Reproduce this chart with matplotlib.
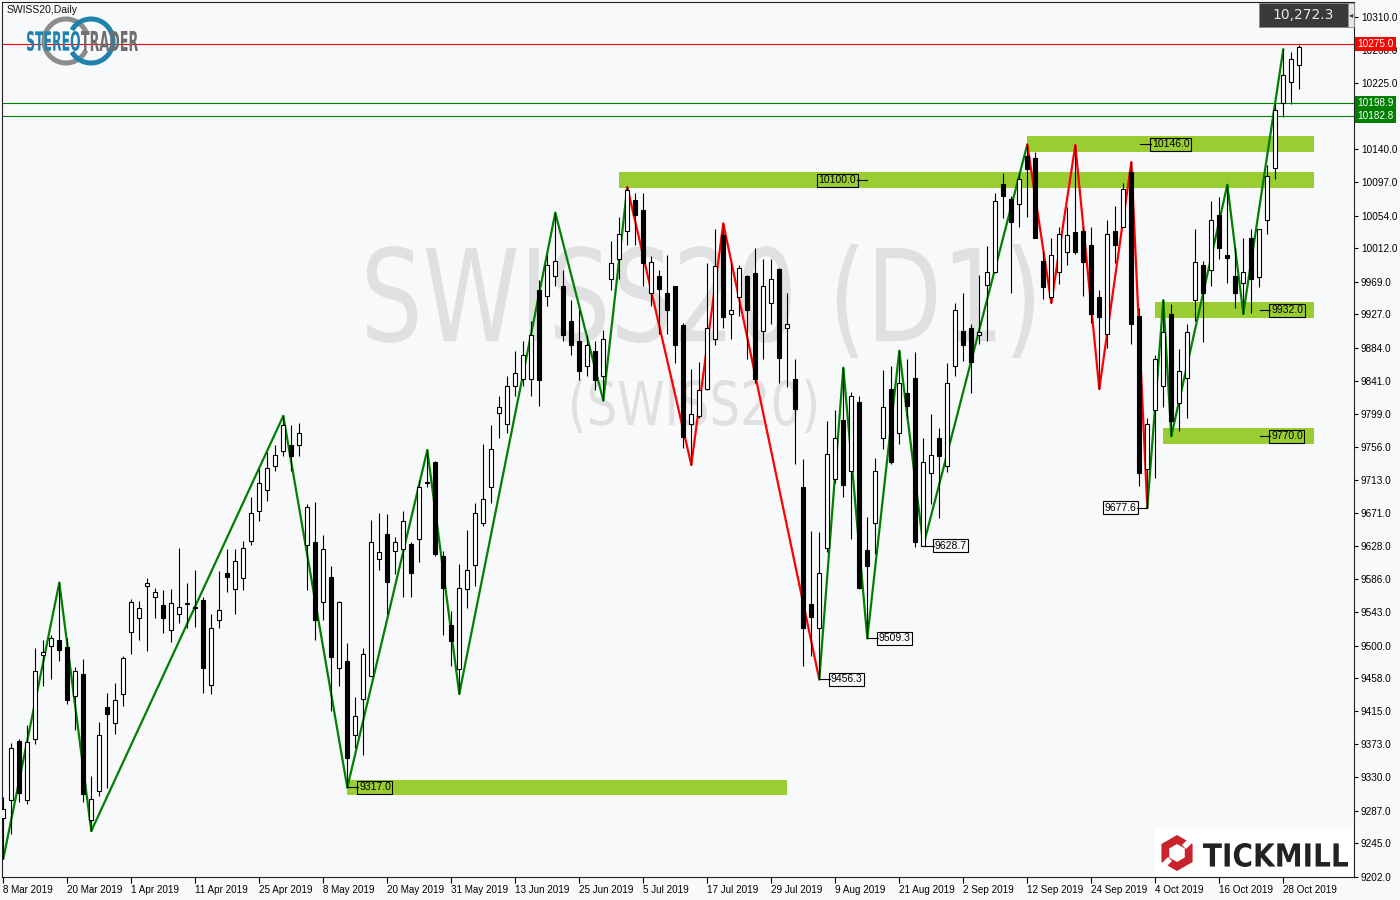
import numpy as np
import matplotlib.pyplot as plt
from matplotlib.patches import Rectangle, PathPatch, Arc, Polygon
from matplotlib.textpath import TextPath
from matplotlib.font_manager import FontProperties
from matplotlib.transforms import Affine2D, IdentityTransform

# daily candles, SWISS20, 8 Mar 2019 .. 30 Oct 2019
opens = [9278, 9301, 9377, 9301, 9380, 9488, 9500, 9507, 9498, 9435,
         9463, 9275, 9312, 9421, 9400, 9438, 9518, 9536, 9577, 9563,
         9552, 9520, 9541, 9553, 9550, 9559, 9449, 9533, 9593, 9573,
         9587, 9635, 9674, 9700, 9732, 9751, 9758, 9758, 9630, 9634,
         9556, 9589, 9471, 9480, 9385, 9431, 9461, 9611, 9644, 9622,
         9624, 9631, 9638, 9710, 9736, 9616, 9527, 9470, 9573, 9604,
         9658, 9704, 9800, 9786, 9835, 9844, 9844, 9958, 9951, 9977,
         9964, 9919, 9893, 9861, 9880, 9847, 9972, 9999, 10035, 10075,
         10062, 9955, 9977, 9954, 9963, 9913, 9785, 9796, 9831, 9895,
         10029, 9928, 9950, 9976, 9980, 9906, 9941, 9986, 9909, 9844,
         9704, 9553, 9523, 9626, 9715, 9791, 9725, 9814, 9623, 9658,
         9767, 9831, 9774, 9825, 9845, 9628.7, 9723, 9768, 9732, 9861,
         9906, 9909, 9900, 9965, 9982, 10095, 10076, 10069, 10131, 10129,
         9996, 9949, 9981, 10007, 10033, 10035, 10017, 9950, 9902, 10034,
         10039, 10110, 9925, 9728, 9804, 9835, 9928, 9813, 9845, 9946,
         9991, 9984, 10055, 10004, 9976, 9967, 10025, 9975, 10049, 10116,
         10199, 10226, 10248]
highs = [9305, 9374, 9380, 9398, 9497, 9507, 9513, 9581, 9510, 9472,
         9483, 9332, 9401, 9439, 9452, 9487, 9560, 9558, 9587, 9574,
         9571, 9573, 9626, 9581, 9598, 9562, 9541, 9596, 9625, 9625,
         9635, 9691, 9728, 9749, 9758, 9796, 9784, 9787, 9682, 9685,
         9643, 9603, 9558, 9503, 9434, 9497, 9662, 9671, 9669, 9640,
         9674, 9634, 9713, 9752, 9738, 9622, 9545, 9605, 9649, 9684,
         9760, 9784, 9822, 9848, 9880, 9893, 9919, 9971, 10003, 10058,
         9984, 9945, 9932, 9900, 9893, 9907, 10022, 10052, 10091, 10084,
         10083, 10002, 9984, 10003, 9964, 9916, 9857, 9865, 9993, 10037,
         10044, 9993, 9990, 9978, 10012, 9998, 9998, 9987, 9954, 9870,
         9740, 9648, 9647, 9789, 9804, 9858, 9827, 9822, 9666, 9742,
         9855, 9860, 9880, 9870, 9878, 9767, 9799, 9781, 9864, 9941,
         9954, 9915, 9978, 10015, 10084, 10109, 10080, 10109, 10146, 10136,
         10009, 10025, 10039, 10065, 10145, 10039, 10039, 9959, 10049, 10067,
         10096, 10123, 9935, 9794, 9874, 9945, 9940, 9882, 9915, 10037,
         9996, 10073, 10078, 10094, 10012, 10025, 10037, 10037, 10119, 10198,
         10269, 10265, 10274]
lows = [9225, 9257, 9298, 9296, 9373, 9448, 9457, 9480, 9425, 9391,
        9298, 9261, 9306, 9316, 9386, 9422, 9489, 9507, 9493, 9536,
        9516, 9505, 9529, 9522, 9524, 9439, 9438, 9522, 9569, 9541,
        9571, 9629, 9661, 9687, 9725, 9745, 9725, 9745, 9571, 9507,
        9533, 9416, 9448, 9317, 9368, 9359, 9461, 9598, 9541, 9592,
        9562, 9562, 9608, 9705, 9616, 9513, 9474, 9438, 9549, 9577,
        9654, 9684, 9768, 9774, 9822, 9835, 9822, 9809, 9938, 9964,
        9893, 9874, 9842, 9848, 9829, 9816, 9958, 9973, 10017, 10016,
        9964, 9938, 9902, 9902, 9864, 9755, 9733, 9793, 9829, 9887,
        9909, 9895, 9925, 9870, 9838, 9869, 9915, 9838, 9833, 9734,
        9474, 9487, 9456.3, 9621, 9709, 9691, 9638, 9573, 9509.3, 9618,
        9754, 9734, 9760, 9793, 9627, 9628.7, 9682, 9665, 9724, 9848,
        9867, 9826, 9889, 9893, 9980, 10051, 9955, 10039, 10053, 10026,
        9947, 9942, 9966, 9990, 10005, 9951, 9916, 9831, 9884, 9993,
        10039, 9889, 9706, 9677.6, 9716, 9807, 9770, 9777, 9794, 9919,
        9891, 9964, 9999, 9967, 9935, 9928, 9929, 9962, 10031, 10102,
        10181, 10198, 10218]
closes = [9289, 9368, 9310, 9376, 9467, 9492, 9510, 9494, 9430, 9467,
          9309, 9302, 9385, 9412, 9430, 9484, 9556, 9549, 9581, 9569,
          9536, 9555, 9550, 9554, 9549, 9471, 9523, 9546, 9589, 9609,
          9626, 9671, 9710, 9729, 9746, 9784, 9745, 9774, 9678, 9533,
          9625, 9485, 9556, 9355, 9409, 9489, 9634, 9621, 9582, 9633,
          9661, 9594, 9704, 9709, 9618, 9574, 9506, 9574, 9598, 9671,
          9689, 9753, 9808, 9835, 9852, 9874, 9900, 9842, 9990, 9996,
          9900, 9887, 9854, 9887, 9842, 9895, 9993, 10031, 10087, 10055,
          9993, 9994, 9960, 9932, 9888, 9769, 9799, 9829, 9909, 9989,
          9923, 9932, 9987, 9932, 9844, 9964, 9972, 9871, 9915, 9805,
          9523, 9537, 9593, 9747, 9767, 9707, 9822, 9574, 9602, 9725,
          9807, 9737, 9838, 9809, 9633, 9737, 9746, 9745, 9838, 9933,
          9888, 9866, 9904, 9982, 10073, 10080, 10046, 10102, 10114, 10026,
          9962, 10003, 10031, 10029, 10007, 9995, 9928, 9923, 10031, 10016,
          10089, 9915, 9722, 9786, 9869, 9904, 9790, 9854, 9904, 9994,
          9954, 10049, 10013, 10000, 9955, 9981, 9972, 10037, 10106, 10191,
          10235, 10256, 10272.3]

date_labels = ['8 Mar 2019', '20 Mar 2019', '1 Apr 2019', '11 Apr 2019', '25 Apr 2019',
               '8 May 2019', '20 May 2019', '31 May 2019', '13 Jun 2019', '25 Jun 2019',
               '5 Jul 2019', '17 Jul 2019', '29 Jul 2019', '9 Aug 2019', '21 Aug 2019',
               '2 Sep 2019', '12 Sep 2019', '24 Sep 2019', '4 Oct 2019', '16 Oct 2019',
               '28 Oct 2019']
# the 10183 tick sits under the green level labels and shows no text
price_ticks = [10310.0, 10268.0, 10225.0, 10183.0, 10140.0, 10097.0, 10054.0, 10012.0,
               9969.0, 9927.0, 9884.0, 9841.0, 9799.0, 9756.0, 9713.0, 9671.0, 9628.0,
               9586.0, 9543.0, 9500.0, 9458.0, 9415.0, 9373.0, 9330.0, 9287.0, 9245.0, 9202.0]
hidden_ticks = [10183.0]

# zigzag pivots (bar index) alternating low / high, colour per leg
zz_pivots = [0, 7, 11, 35, 43, 53, 57, 69, 75, 78, 86, 90, 102, 105, 108, 112, 115,
             128, 131, 134, 137, 141, 143, 145, 146, 153, 155, 160]
zz_colors = ['g'] * 9 + ['r'] * 3 + ['g'] * 5 + ['r'] * 5 + ['g'] * 5

# support / resistance zones: level, first bar, last bar
zone_levels = [9317.0, 10100.0, 10146.0, 9932.0, 9770.0]
zone_start = [43, 77, 128, 144, 145]
zone_end = [97.9, 163.8, 163.8, 163.8, 163.8]

red_level = 10275.0
green_levels = [10198.9, 10182.8]
last_price = closes[-1]

BG = '#f8f9fb'
GREEN = '#008000'
ZONE = '#9acd32'
W, H = 1400, 900

plt.rcParams['font.family'] = ['Liberation Sans', 'DejaVu Sans']

fig = plt.figure(figsize=(14, 9), dpi=100, facecolor=BG)
ax = fig.add_axes([2 / W, (H - 877) / H, 1352 / W, 875 / H], facecolor=BG)


def px(x):
    # screen x of the reference -> bar index
    return (x - 3.3) / 8.0


def fit_text(s, x0, y0, x1, y1, color, family='DejaVu Sans', weight='normal', z=0.5, target=None):
    tp = TextPath((0, 0), s, size=100, prop=FontProperties(family=family, weight=weight))
    bb = tp.get_extents()
    tr = Affine2D().translate(-bb.x0, -bb.y0).scale((x1 - x0) / bb.width, (y1 - y0) / bb.height)
    tr = tr.translate(x0, H - y1)
    p = PathPatch(tp, transform=tr, fc=color, ec='none', zorder=z)
    if target is None:
        fig.add_artist(p)
    else:
        p.set_clip_on(False)
        target.add_artist(p)


# watermark
fit_text('SWISS20 (D1)', 367, 244, 1034, 358, '#e0e0e0', target=ax, z=0.3)
fit_text('(SWISS20)', 572, 379, 816, 433, '#e0e0e0', target=ax, z=0.3)

# zones
for lev, a, b in zip(zone_levels, zone_start, zone_end):
    ax.add_patch(Rectangle((a, lev - 10.3), b - a, 20.6, fc=ZONE, ec='none', zorder=1))

# zigzag
for k in range(len(zz_pivots) - 1):
    i0, i1 = zz_pivots[k], zz_pivots[k + 1]
    if k % 2 == 0:
        y0, y1 = lows[i0], highs[i1]
    else:
        y0, y1 = highs[i0], lows[i1]
    col = GREEN if zz_colors[k] == 'g' else '#ff0000'
    ax.plot([i0, i1], [y0, y1], color=col, lw=1.6, zorder=1.5, solid_capstyle='round')

# level lines
ax.axhline(red_level, color='#ff0000', lw=0.8, zorder=2.5)
for g in green_levels:
    ax.axhline(g, color=GREEN, lw=0.8, zorder=2.5)

# candles
n = len(opens)
x = np.arange(n)
ax.vlines(x, lows, highs, color='black', lw=0.8, zorder=2)
for i in range(n):
    o, c = opens[i], closes[i]
    lo = min(o, c)
    hgt = max(abs(c - o), 1.3)
    fc = 'white' if c >= o else 'black'
    ax.add_patch(Rectangle((i - 0.25, lo), 0.5, hgt, fc=fc, ec='black', lw=0.8, zorder=3))


# price labels on the chart
def box_label(xi, yv, s, ha='left'):
    ax.text(xi, yv, s, fontsize=7.5, ha=ha, va='center', color='black', zorder=6,
            bbox=dict(boxstyle='square,pad=0.15', fc='none', ec='black', lw=0.8))


def stub(xa, xb, yv):
    ax.plot([xa, xb], [yv, yv], color='black', lw=0.8, zorder=6)


stub(43, px(358), zone_levels[0]); box_label(px(359), zone_levels[0], '9317.0')
stub(px(857), 108, zone_levels[1]); box_label(px(856), zone_levels[1], '10100.0', ha='right')
stub(px(1140), px(1151), zone_levels[2]); box_label(px(1152), zone_levels[2], '10146.0')
stub(px(1260), px(1270), zone_levels[3]); box_label(px(1271), zone_levels[3], '9932.0')
stub(px(1260), px(1270), zone_levels[4]); box_label(px(1271), zone_levels[4], '9770.0')
for piv in [102, 108, 115]:
    stub(piv, piv + 1.3, lows[piv])
    box_label(piv + 1.4, lows[piv], '%.1f' % lows[piv])
stub(141.7, 143, lows[143]); box_label(141.6, lows[143], '%.1f' % lows[143], ha='right')

# axes
ax.set_xlim(px(2), px(1354))
ax.set_ylim(9201.6, 10329.7)
ax.yaxis.tick_right()
ax.set_yticks(price_ticks)
ax.set_yticklabels(['' if t in hidden_ticks else '%.1f' % t for t in price_ticks])
ax.set_xticks(range(0, 161, 8))
ax.set_xticklabels(date_labels, ha='left')
ax.tick_params(axis='y', direction='out', length=3, width=0.8, pad=2, labelsize=7.2, colors='black')
ax.tick_params(axis='x', direction='out', length=4, width=0.8, pad=2, labelsize=7.1, colors='black')
for sp in ax.spines.values():
    sp.set_color('#222222')
    sp.set_linewidth(0.8)

ytr = ax.get_yaxis_transform()
ax.text(1.0025, red_level, '%.1f' % red_level, transform=ytr, fontsize=7.2, color='white',
        ha='left', va='center', zorder=7, clip_on=False,
        bbox=dict(boxstyle='square,pad=0.2', fc='#ff0000', ec='none'))
for g in green_levels:
    ax.text(1.0025, g, '%.1f' % g, transform=ytr, fontsize=7.2, color='white',
            ha='left', va='center', zorder=7, clip_on=False,
            bbox=dict(boxstyle='square,pad=0.2', fc=GREEN, ec='none'))

# top right price box
fig.add_artist(Rectangle((1259, H - 27), 89, 24, transform=IdentityTransform(),
                         fc='#3a3a3a', ec='#888888', lw=0.6, zorder=8))
fig.add_artist(Rectangle((1348, H - 27), 6, 24, transform=IdentityTransform(),
                         fc='#e6e6e6', ec='#888888', lw=0.6, zorder=8))
fig.text(1303 / W, (H - 15) / H, '{:,.1f}'.format(last_price), fontsize=10, color='#e8e8e8',
         ha='center', va='center', family='DejaVu Sans', zorder=9)
fig.text(1351 / W, (H - 15) / H, '\u25c2', fontsize=6, color='#333333',
         ha='center', va='center', family='DejaVu Sans', zorder=9)

fig.text(7 / W, (H - 10) / H, 'SWISS20,Daily', fontsize=7.5, color='#111111',
         ha='left', va='center', zorder=9)

# stereotrader logo
for cx, col, t1, t2 in [(66, '#8c8c8c', 25, 335), (91, '#1e82ad', -150, 150)]:
    fig.add_artist(Arc((cx, H - 41), 44, 44, theta1=t1, theta2=t2, transform=IdentityTransform(),
                       color=col, lw=3.6, zorder=8))
fit_text('STEREO', 27, 31, 80, 51, '#1e82ad', weight='bold', z=9)
fit_text('TRADER', 81, 31, 138, 51, '#6e6e6e', weight='bold', z=9)

# tickmill logo
fig.add_artist(Rectangle((1155, H - 876), 198, 48, transform=IdentityTransform(),
                         fc='white', ec='none', zorder=8))
ang = np.deg2rad(np.arange(6) * 60 + 90)
outer = np.c_[1177 + 18 * np.cos(ang), H - 853 + 18 * np.sin(ang)]
inner = np.c_[1177 + 9 * np.cos(ang), H - 853 + 9 * np.sin(ang)]
fig.add_artist(Polygon(outer, closed=True, transform=IdentityTransform(), fc='#c8232c', ec='none', zorder=9))
fig.add_artist(Polygon(inner, closed=True, transform=IdentityTransform(), fc='white', ec='none', zorder=9))
for sx, sy in [(1188, H - 843), (1166, H - 863)]:
    fig.add_artist(Polygon([[sx - 6, sy - 2], [sx - 2, sy - 6], [sx + 6, sy + 2], [sx + 2, sy + 6]],
                           closed=True, transform=IdentityTransform(), fc='white', ec='none', zorder=9))
fit_text('TICKMILL', 1203, 843, 1348, 867, '#222222', weight='bold', z=9)

plt.savefig('out.png', dpi=100, facecolor=BG)
